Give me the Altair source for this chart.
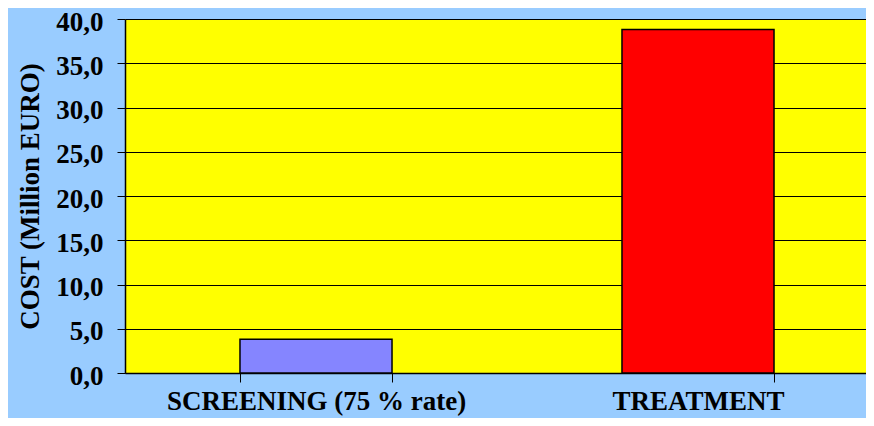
import altair as alt
import pandas as pd

categories = ["SCREENING (75 % rate)", "TREATMENT"]
costs = [3.8, 38.8]
y_ticks = [0, 5, 10, 15, 20, 25, 30, 35, 40]

df = pd.DataFrame({"category": categories, "cost": costs})

FONT = "Liberation Serif"

x_enc = alt.X(
    "category:N",
    sort=categories,
    scale=alt.Scale(range=[0, 764], paddingInner=0.602, paddingOuter=0.301),
    axis=alt.Axis(
        title=None,
        labelAngle=0,
        labelFont=FONT,
        labelFontSize=27,
        labelFontWeight="bold",
        labelColor="black",
        labelPadding=6,
        labelLimit=0,
        tickBand="extent",
        tickSize=9,
        tickColor="black",
        domainColor="black",
        domainWidth=1.5,
        grid=False,
    ),
)
y_enc = alt.Y(
    "cost:Q",
    scale=alt.Scale(domain=[0, 40], nice=False),
    axis=alt.Axis(
        title="COST (Million EURO)",
        values=y_ticks,
        labelExpr="replace(format(datum.value, '.1f'), '.', ',')",
        labelFont=FONT,
        labelFontSize=27,
        labelFontWeight="bold",
        labelColor="black",
        labelPadding=14,
        labelOffset=3,
        tickSize=8,
        tickColor="black",
        domainColor="black",
        domainWidth=1.5,
        grid=True,
        gridColor="black",
        gridWidth=1,
        gridOpacity=1,
        titleFont=FONT,
        titleFontSize=27,
        titleFontWeight="bold",
        titleColor="black",
        titleAngle=270,
        titleAlign="center",
        titleBaseline="middle",
        titleX=-95,
        titleY=177,
    ),
)

base = alt.Chart(df).encode(x=x_enc, y=y_enc)

screen = base.transform_filter(alt.datum.category == categories[0]).mark_bar(
    fill="#8585ff", stroke="black", strokeWidth=1.5
)
treat = base.transform_filter(alt.datum.category == categories[1]).mark_bar(
    fill="#ff0000", stroke="black", strokeWidth=1.5
)

chart = (
    alt.layer(screen, treat)
    .properties(
        width=741,
        height=354,
        background="#99ccff",
        autosize=alt.AutoSizeParams(type="none"),
        padding={"left": 117, "top": 11, "right": 0, "bottom": 45},
    )
    .configure_view(fill="#ffff00", stroke=None)
)

chart.save("out.html", embed_options={"renderer": "svg", "actions": False})
